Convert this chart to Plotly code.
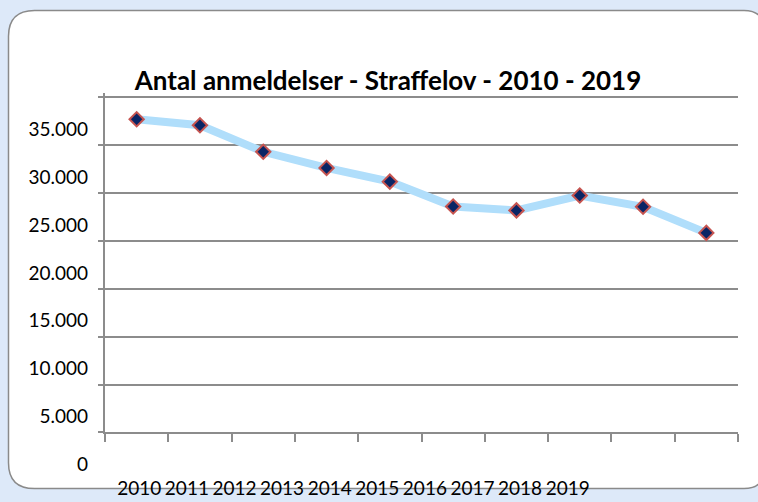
import plotly.graph_objects as go

# ---- data ----
years = ["2010", "2011", "2012", "2013", "2014", "2015", "2016", "2017", "2018", "2019"]
reports = [36070, 35450, 32670, 30980, 29550, 26950, 26540, 28100, 26920, 24190]
y_tick_vals = [0, 5000, 10000, 15000, 20000, 25000, 30000, 35000]
y_tick_text = ["0", "5.000", "10.000", "15.000", "20.000", "25.000", "30.000", "35.000"]
title_text = "Antal anmeldelser - Straffelov - 2010 - 2019"

W, H = 758, 502
FONT = "Lato"


def px(x):
    return x / W


def py(y):
    return 1 - y / H


# label axis: value v sits at pixel 467 - v*48.1/5000
lab_top = (467 - 98) / 48.1 * 5000
lab_bot = (467 - 475) / 48.1 * 5000

# grid axis: 0 at pixel 435, 35000 at pixel 98, domain a bit taller so the top grid line shows
grid_top_px = 94
grid_top_val = 35000 * (435 - grid_top_px) / (435 - 98)

fig = go.Figure()

fig.add_trace(go.Scatter(x=years, y=[None] * len(years), xaxis="x", yaxis="y",
                         showlegend=False, hoverinfo="skip", mode="lines"))
fig.add_trace(go.Scatter(x=years, y=[None] * len(years), xaxis="x2", yaxis="y2",
                         showlegend=False, hoverinfo="skip", mode="lines"))

fig.add_trace(go.Scatter(
    x=years, y=reports, xaxis="x", yaxis="y2",
    mode="lines+markers",
    line=dict(color="#b0defb", width=8),
    marker=dict(symbol="diamond", size=11, color="#0a2565",
                line=dict(color="#c65450", width=2)),
    showlegend=False,
    cliponaxis=False,
))

# card
r1, r2 = 26, 20
L, T, R, B = 8.5, 10.5, 764, 491.5
path = (
    f"M {px(L)},{py(T + r1)} "
    f"Q {px(L)},{py(T)} {px(L + r1)},{py(T)} "
    f"L {px(R - r2)},{py(T)} "
    f"Q {px(R)},{py(T)} {px(R)},{py(T + r2)} "
    f"L {px(R)},{py(B - r2)} "
    f"Q {px(R)},{py(B)} {px(R - r2)},{py(B)} "
    f"L {px(L + r1)},{py(B)} "
    f"Q {px(L)},{py(B)} {px(L)},{py(B - r1)} Z"
)

fig.update_layout(
    width=W, height=H, autosize=False,
    margin=dict(l=0, r=0, t=0, b=0),
    paper_bgcolor="#dde9f9",
    plot_bgcolor="rgba(0,0,0,0)",
    font=dict(family=FONT, color="#000000", size=19),
    title=dict(text=f"<b>{title_text}</b>", x=px(388), y=py(81),
               xanchor="center", yanchor="middle", xref="paper", yref="paper",
               font=dict(family=FONT, size=26, color="#000000")),
    shapes=[dict(type="path", path=path, xref="paper", yref="paper",
                 fillcolor="#ffffff", line=dict(color="#8a8a8a", width=1.5),
                 layer="below")],
    xaxis=dict(domain=[px(105), px(738)], type="category", range=[-0.5, 9.5],
               anchor="y", showline=True, linecolor="#8c8c8c", linewidth=1.5,
               ticks="outside", tickson="boundaries", ticklen=8, tickcolor="#8c8c8c",
               tickwidth=1.5, showticklabels=False, showgrid=False, zeroline=False,
               fixedrange=True),
    yaxis=dict(domain=[py(435), py(grid_top_px)], range=[0, grid_top_val], anchor="x",
               tickvals=y_tick_vals, showticklabels=False,
               showgrid=True, gridcolor="#8c8c8c", gridwidth=1.5,
               showline=False, zeroline=False,
               ticks="outside", ticklen=6, tickcolor="#8c8c8c", tickwidth=1.5),
    yaxis3=dict(domain=[py(435), py(98)], range=[0, 35000], anchor="x",
                overlaying="y", showticklabels=False, showgrid=False,
                showline=True, linecolor="#8c8c8c", linewidth=1.5,
                ticks="", zeroline=False),
    yaxis2=dict(domain=[py(475), py(98)], range=[lab_bot, lab_top], anchor="free",
                position=px(88), tickvals=y_tick_vals, ticktext=y_tick_text,
                showgrid=False, showline=False, zeroline=False, ticks="",
                tickfont=dict(family=FONT, size=19, color="#000000")),
    xaxis2=dict(domain=[px(115.5), px(591.5)], type="category", range=[-0.5, 9.5],
                anchor="free", position=py(478), showgrid=False, showline=False,
                zeroline=False, ticks="",
                tickfont=dict(family=FONT, size=19, color="#000000")),
)

fig.add_trace(go.Scatter(x=years, y=[None] * len(years), xaxis="x", yaxis="y3",
                         showlegend=False, hoverinfo="skip", mode="lines"))

fig.write_html(
    "out.html",
    config={"displayModeBar": False},
    post_script="document.body.style.margin='0';document.body.style.overflow='hidden';",
)
